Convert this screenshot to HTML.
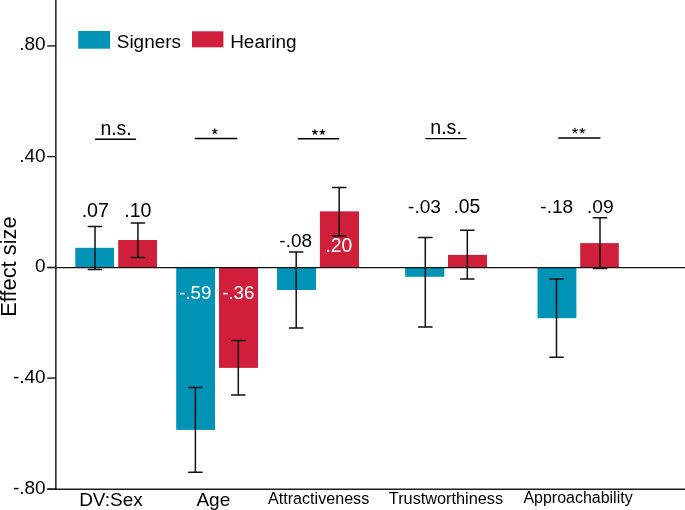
<!DOCTYPE html>
<html><head><meta charset="utf-8"><style>
html,body{margin:0;padding:0;background:#fff;}
body{width:685px;height:510px;overflow:hidden;}
svg{display:block;will-change:transform;}
text{font-family:"Liberation Sans",sans-serif;}
</style></head><body>
<svg width="685" height="510" viewBox="0 0 685 510">
<rect x="75.3" y="247.8" width="38.7" height="19.6" fill="#0093b5"/>
<rect x="118.2" y="240.0" width="38.8" height="27.4" fill="#cf1f3b"/>
<rect x="176.2" y="267.4" width="38.8" height="162.5" fill="#0093b5"/>
<rect x="219.0" y="267.4" width="39.0" height="100.5" fill="#cf1f3b"/>
<rect x="277.0" y="267.4" width="39.0" height="22.6" fill="#0093b5"/>
<rect x="319.9" y="211.35" width="39.1" height="56.0" fill="#cf1f3b"/>
<rect x="405.2" y="267.4" width="39.1" height="9.4" fill="#0093b5"/>
<rect x="448.0" y="254.9" width="39.0" height="12.5" fill="#cf1f3b"/>
<rect x="537.5" y="267.4" width="38.9" height="50.8" fill="#0093b5"/>
<rect x="580.2" y="243.1" width="38.6" height="24.3" fill="#cf1f3b"/>
<line x1="47.3" y1="267.5" x2="685" y2="267.5" stroke="#111" stroke-width="1.25"/>
<path d="M88.3 226.4H101.7M95.0 226.4V269.4M88.3 269.4H101.7" stroke="#111" stroke-width="1.5" stroke-linecap="round" fill="none"/>
<path d="M131.2 222.9H144.6M137.9 222.9V257.4M131.2 257.4H144.6" stroke="#111" stroke-width="1.5" stroke-linecap="round" fill="none"/>
<path d="M188.7 387.4H202.1M195.4 387.4V472.2M188.7 472.2H202.1" stroke="#111" stroke-width="1.5" stroke-linecap="round" fill="none"/>
<path d="M231.6 340.4H245.0M238.3 340.4V395.1M231.6 395.1H245.0" stroke="#111" stroke-width="1.5" stroke-linecap="round" fill="none"/>
<path d="M289.5 252.1H302.9M296.2 252.1V327.9M289.5 327.9H302.9" stroke="#111" stroke-width="1.5" stroke-linecap="round" fill="none"/>
<path d="M332.5 187.4H345.9M339.2 187.4V236.0M332.5 236.0H345.9" stroke="#111" stroke-width="1.5" stroke-linecap="round" fill="none"/>
<path d="M418.6 237.4H432.0M425.3 237.4V327.0M418.6 327.0H432.0" stroke="#111" stroke-width="1.5" stroke-linecap="round" fill="none"/>
<path d="M460.6 230.3H474.0M467.3 230.3V279.1M460.6 279.1H474.0" stroke="#111" stroke-width="1.5" stroke-linecap="round" fill="none"/>
<path d="M549.8 279.0H563.2M556.5 279.0V357.3M549.8 357.3H563.2" stroke="#111" stroke-width="1.5" stroke-linecap="round" fill="none"/>
<path d="M593.3 217.7H606.7M600.0 217.7V268.4M593.3 268.4H606.7" stroke="#111" stroke-width="1.5" stroke-linecap="round" fill="none"/>
<line x1="55.85" y1="0" x2="55.85" y2="489.8" stroke="#1c1c1c" stroke-width="1.5"/>
<line x1="47.3" y1="489.3" x2="685" y2="489.3" stroke="#1c1c1c" stroke-width="1.4"/>
<line x1="47.2" y1="45.9" x2="55.85" y2="45.9" stroke="#1c1c1c" stroke-width="1.4"/>
<line x1="47.2" y1="156.6" x2="55.85" y2="156.6" stroke="#1c1c1c" stroke-width="1.4"/>
<line x1="47.2" y1="267.4" x2="55.85" y2="267.4" stroke="#1c1c1c" stroke-width="1.4"/>
<line x1="47.2" y1="378.1" x2="55.85" y2="378.1" stroke="#1c1c1c" stroke-width="1.4"/>
<line x1="47.2" y1="489.1" x2="55.85" y2="489.1" stroke="#1c1c1c" stroke-width="1.4"/>
<line x1="95.5" y1="139.3" x2="135.5" y2="139.3" stroke="#000" stroke-width="1.45" stroke-linecap="round"/>
<line x1="195.3" y1="138.4" x2="236.8" y2="138.4" stroke="#000" stroke-width="1.45" stroke-linecap="round"/>
<line x1="298.4" y1="138.8" x2="338.6" y2="138.8" stroke="#000" stroke-width="1.45" stroke-linecap="round"/>
<line x1="425.8" y1="138.6" x2="466.0" y2="138.6" stroke="#000" stroke-width="1.45" stroke-linecap="round"/>
<line x1="558.8" y1="137.9" x2="599.9" y2="137.9" stroke="#000" stroke-width="1.45" stroke-linecap="round"/>
<text x="19.20" y="50.40" font-size="19.00" fill="#000">.80</text>
<text x="19.20" y="161.80" font-size="19.00" fill="#000">.40</text>
<text x="35.07" y="272.40" font-size="19.00" fill="#000">0</text>
<text x="12.88" y="383.20" font-size="19.00" fill="#000">-.40</text>
<text x="12.88" y="494.00" font-size="19.00" fill="#000">-.80</text>
<text x="81.68" y="216.80" font-size="19.64" fill="#000">.07</text>
<text x="124.19" y="216.70" font-size="19.60" fill="#000">.10</text>
<text x="179.16" y="299.00" font-size="18.74" fill="#fff">-.59</text>
<text x="222.16" y="299.00" font-size="18.72" fill="#fff">-.36</text>
<text x="279.35" y="247.10" font-size="18.90" fill="#000">-.08</text>
<text x="325.42" y="252.10" font-size="19.29" fill="#fff">.20</text>
<text x="408.04" y="212.60" font-size="19.08" fill="#000">-.03</text>
<text x="453.41" y="212.60" font-size="19.32" fill="#000">.05</text>
<text x="540.34" y="212.60" font-size="19.02" fill="#000">-.18</text>
<text x="586.92" y="212.60" font-size="19.24" fill="#000">.09</text>
<text x="100.39" y="134.90" font-size="19.45" fill="#000">n.s.</text>
<text x="430.28" y="133.80" font-size="19.59" fill="#000">n.s.</text>
<path d="M214.80 131.27L214.80 128.77M214.80 131.27L217.18 130.50M214.80 131.27L216.27 133.30M214.80 131.27L213.33 133.30M214.80 131.27L212.42 130.50" stroke="#000" stroke-width="1.15" stroke-linecap="round" fill="none"/>
<path d="M314.90 132.14L314.90 129.64M314.90 132.14L317.28 131.37M314.90 132.14L316.37 134.17M314.90 132.14L313.43 134.17M314.90 132.14L312.52 131.37" stroke="#000" stroke-width="1.15" stroke-linecap="round" fill="none"/>
<path d="M322.40 132.14L322.40 129.64M322.40 132.14L324.78 131.37M322.40 132.14L323.87 134.17M322.40 132.14L320.93 134.17M322.40 132.14L320.02 131.37" stroke="#000" stroke-width="1.15" stroke-linecap="round" fill="none"/>
<path d="M574.95 130.72L574.95 128.22M574.95 130.72L577.33 129.95M574.95 130.72L576.42 132.75M574.95 130.72L573.48 132.75M574.95 130.72L572.57 129.95" stroke="#000" stroke-width="1.15" stroke-linecap="round" fill="none"/>
<path d="M582.30 130.72L582.30 128.22M582.30 130.72L584.68 129.95M582.30 130.72L583.77 132.75M582.30 130.72L580.83 132.75M582.30 130.72L579.92 129.95" stroke="#000" stroke-width="1.15" stroke-linecap="round" fill="none"/>
<text x="79.13" y="505.90" font-size="18.97" fill="#000">DV:Sex</text>
<text x="196.44" y="505.60" font-size="19.00" fill="#000">Age</text>
<text x="268.06" y="504.00" font-size="16.13" fill="#000">Attractiveness</text>
<text x="388.83" y="503.90" font-size="16.29" fill="#000">Trustworthiness</text>
<text x="523.46" y="502.90" font-size="15.98" fill="#000">Approachability</text>
<text x="116.75" y="48.20" font-size="18.97" fill="#000">Signers</text>
<text x="230.13" y="47.90" font-size="18.99" fill="#000">Hearing</text>
<rect x="78.2" y="31" width="31.8" height="17.7" fill="#0093b5"/>
<rect x="192" y="31.3" width="31.4" height="16" fill="#cf1f3b"/>
<text transform="translate(16.1,316.70) rotate(-90)" font-size="21.82">Effect size</text>
</svg>
</body></html>
